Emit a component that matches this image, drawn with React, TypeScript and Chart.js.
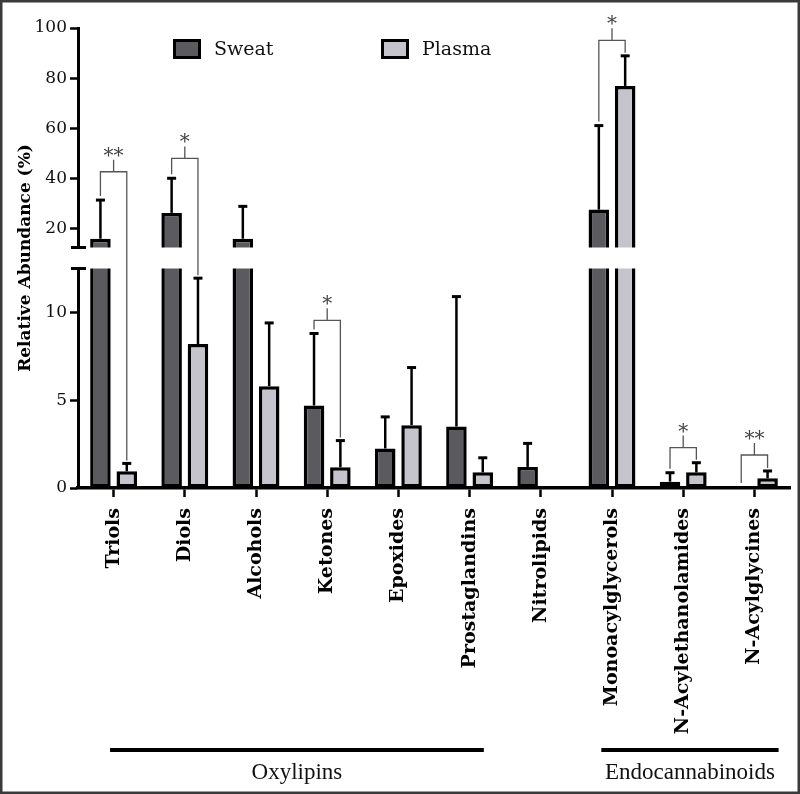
import React, { useEffect, useRef } from 'react';
import { Chart, registerables, LinearScale } from 'chart.js';

const categories = [
  'Triols', 'Diols', 'Alcohols', 'Ketones', 'Epoxides', 'Prostaglandins',
  'Nitrolipids', 'Monoacylglycerols', 'N-Acylethanolamides', 'N-Acylglycines',
];
const sweatValues = [16.0, 26.3, 16.0, 4.7, 2.25, 3.5, 1.2, 27.6, 0.36, 0.06];
const sweatErrors = [15.4, 13.8, 12.9, 4.1, 1.8, 7.4, 1.34, 33.5, 0.51, 0];
const plasmaValues = [0.95, 8.2, 5.8, 1.18, 3.58, 0.89, null, 76.9, 0.89, 0.55];
const plasmaErrors = [0.45, 3.75, 3.6, 1.52, 3.28, 0.83, 0, 12.0, 0.55, 0.42];
const sigLabels = ['**', '*', '', '*', '', '', '', '*', '*', '**'];
const sigHeights = [42.7, 48, null, 9.55, null, null, null, 95.1, 2.3, 1.88];
const yTickValues = [0, 5, 10, 20, 40, 60, 80, 100];
const groupLabels = ['Oxylipins', 'Endocannabinoids'];
const groupStart = [-0.05, 6.85];
const groupEnd = [5.2, 9.34];

const BREAK_AT = 12.5;
const GAP_PX = 21;
const LOWER_SHARE = 0.5;

class BrokenLinearScale extends LinearScale {
  static id = 'brokenLinear';
  segs() {
    const avail = this.bottom - this.top - GAP_PX;
    const L = avail * LOWER_SHARE;
    const U = avail - L;
    return { L, U };
  }
  getPixelForValue(value: number) {
    const { L, U } = this.segs();
    const min = this.min;
    const max = this.max;
    if (value <= BREAK_AT) return this.bottom - ((value - min) / (BREAK_AT - min)) * L;
    return this.bottom - L - GAP_PX - ((value - BREAK_AT) / (max - BREAK_AT)) * U;
  }
  getValueForPixel(pixel: number) {
    const { L, U } = this.segs();
    const d = this.bottom - pixel;
    if (d <= L) return this.min + (d / L) * (BREAK_AT - this.min);
    return BREAK_AT + ((d - L - GAP_PX) / U) * (this.max - BREAK_AT);
  }
  breakPixels() {
    const { L } = this.segs();
    return { lowerTop: this.bottom - L, upperBottom: this.bottom - L - GAP_PX };
  }
}

Chart.register(...registerables, BrokenLinearScale);

const overlayPlugin = {
  id: 'overlayPlugin',
  afterDatasetsDraw(chart: any) {
    const ctx = chart.ctx;
    const y = chart.scales.y;
    const x = chart.scales.x;
    const area = chart.chartArea;
    const { lowerTop, upperBottom } = y.breakPixels();
    ctx.save();
    // axis break gap
    ctx.fillStyle = '#ffffff';
    ctx.fillRect(area.left - 14, upperBottom, area.right - area.left + 16, lowerTop - upperBottom);
    ctx.strokeStyle = '#000';
    ctx.lineWidth = 3;
    ctx.beginPath();
    ctx.moveTo(area.left - 7, upperBottom);
    ctx.lineTo(area.left + 8, upperBottom);
    ctx.moveTo(area.left - 7, lowerTop);
    ctx.lineTo(area.left + 8, lowerTop);
    ctx.stroke();

    // error bars
    const vals = [sweatValues, plasmaValues];
    const errs = [sweatErrors, plasmaErrors];
    for (let d = 0; d < 2; d++) {
      const meta = chart.getDatasetMeta(d);
      meta.data.forEach((bar: any, j: number) => {
        const v = vals[d][j];
        const e = errs[d][j];
        if (v == null || !e) return;
        const top = y.getPixelForValue(v + e);
        ctx.strokeStyle = '#000';
        ctx.lineWidth = 2.5;
        ctx.beginPath();
        ctx.moveTo(bar.x, bar.y);
        ctx.lineTo(bar.x, top);
        ctx.stroke();
        ctx.lineWidth = 3;
        ctx.beginPath();
        ctx.moveTo(bar.x - 4.5, top);
        ctx.lineTo(bar.x + 4.5, top);
        ctx.stroke();
      });
    }

    // significance brackets
    const m0 = chart.getDatasetMeta(0);
    const m1 = chart.getDatasetMeta(1);
    sigLabels.forEach((lab, j) => {
      const h = sigHeights[j];
      if (!lab || h == null) return;
      const lx = m0.data[j].x;
      const rx = m1.data[j].x;
      const lTop = y.getPixelForValue((sweatValues[j] || 0) + (sweatErrors[j] || 0)) - 4;
      const rTop = y.getPixelForValue((plasmaValues[j] || 0) + (plasmaErrors[j] || 0)) - 3;
      const by = y.getPixelForValue(h);
      const cx = (lx + rx) / 2;
      ctx.strokeStyle = '#555';
      ctx.lineWidth = 1.3;
      ctx.beginPath();
      ctx.moveTo(lx, lTop);
      ctx.lineTo(lx, by);
      ctx.lineTo(rx, by);
      ctx.lineTo(rx, rTop);
      ctx.moveTo(cx, by);
      ctx.lineTo(cx, by - 12);
      ctx.stroke();
      ctx.fillStyle = '#444';
      ctx.font = '20px "DejaVu Serif"';
      ctx.textAlign = 'center';
      ctx.textBaseline = 'alphabetic';
      ctx.fillText(lab, cx, by - 10);
    });

    // legend
    const legendX = [area.left + 95, area.left + 303];
    chart.data.datasets.forEach((ds: any, i: number) => {
      const bx = legendX[i];
      const byy = area.top + 11;
      ctx.fillStyle = ds.backgroundColor;
      ctx.fillRect(bx, byy, 28, 20);
      ctx.strokeStyle = '#000';
      ctx.lineWidth = 3;
      ctx.strokeRect(bx + 1.5, byy + 1.5, 25, 17);
      ctx.fillStyle = '#111';
      ctx.font = '19px "DejaVu Serif"';
      ctx.textAlign = 'left';
      ctx.textBaseline = 'middle';
      ctx.fillText(ds.label, bx + 41, byy + 11);
    });

    // group lines
    const H = chart.height;
    groupLabels.forEach((g, i) => {
      const x1 = x.getPixelForValue(groupStart[i]);
      const x2 = x.getPixelForValue(groupEnd[i]);
      ctx.strokeStyle = '#000';
      ctx.lineWidth = 4;
      ctx.beginPath();
      ctx.moveTo(x1, H - 44);
      ctx.lineTo(x2, H - 44);
      ctx.stroke();
      ctx.fillStyle = '#111';
      ctx.font = '23px "Liberation Serif"';
      ctx.textAlign = 'center';
      ctx.textBaseline = 'middle';
      ctx.fillText(g, (x1 + x2) / 2, H - 21);
    });
    ctx.restore();
  },
  afterDraw(chart: any) {
    const ctx = chart.ctx;
    ctx.save();
    ctx.strokeStyle = '#3a3a3a';
    ctx.lineWidth = 2.5;
    ctx.strokeRect(1.25, 1.25, chart.width - 2.5, chart.height - 2.5);
    ctx.restore();
  },
};

export default function App() {
  const ref = useRef<HTMLCanvasElement>(null);
  useEffect(() => {
    document.body.style.margin = '0';
    if (!ref.current) return;
    const chart = new Chart(ref.current, {
      type: 'bar',
      data: {
        labels: categories,
        datasets: [
          {
            label: 'Sweat',
            data: sweatValues,
            backgroundColor: '#5b5b5f',
            borderColor: '#000',
            borderWidth: 3.5,
            borderSkipped: false,
            categoryPercentage: 0.74,
            barPercentage: 0.78,
          },
          {
            label: 'Plasma',
            data: plasmaValues,
            backgroundColor: '#c5c4cd',
            borderColor: '#000',
            borderWidth: 3.5,
            borderSkipped: false,
            categoryPercentage: 0.74,
            barPercentage: 0.78,
          },
        ],
      },
      options: {
        responsive: false,
        animation: false,
        devicePixelRatio: 1,
        layout: { padding: { left: 0, right: 10, top: 28, bottom: 0 } },
        plugins: { legend: { display: false }, tooltip: { enabled: false } },
        scales: {
          x: {
            type: 'category',
            afterFit: (s: any) => { s.height = 306; },
            border: { display: true, color: '#000', width: 3.5 },
            grid: { drawOnChartArea: false, offset: false, drawTicks: true, tickLength: 9, tickWidth: 2.5, tickColor: '#000' },
            ticks: {
              color: '#000',
              font: { family: '"DejaVu Serif"', size: 19, weight: 'bold' },
              maxRotation: 90,
              minRotation: 90,
              autoSkip: false,
              padding: 11,
            },
          },
          y: {
            type: 'brokenLinear' as any,
            min: 0,
            max: 100,
            afterFit: (s: any) => { s.width = 78; },
            afterBuildTicks: (s: any) => { s.ticks = yTickValues.map((v) => ({ value: v })); },
            border: { display: true, color: '#000', width: 3 },
            grid: { drawOnChartArea: false, drawTicks: true, tickLength: 8, tickWidth: 2.5, tickColor: '#000' },
            ticks: {
              color: '#111',
              font: { family: '"DejaVu Serif"', size: 17 },
              padding: 3,
              callback: (v: any) => String(v),
            },
            title: {
              display: true,
              text: 'Relative Abundance (%)',
              color: '#000',
              font: { family: '"DejaVu Serif"', size: 17, weight: 'bold' },
              padding: { top: 15, bottom: 0 },
            },
          },
        },
      },
      plugins: [overlayPlugin],
    });
    return () => chart.destroy();
  }, []);
  return (
    <div style={{ position: 'absolute', left: 0, top: 0, width: 800, height: 794 }}>
      <canvas ref={ref} width={800} height={794} />
    </div>
  );
}
